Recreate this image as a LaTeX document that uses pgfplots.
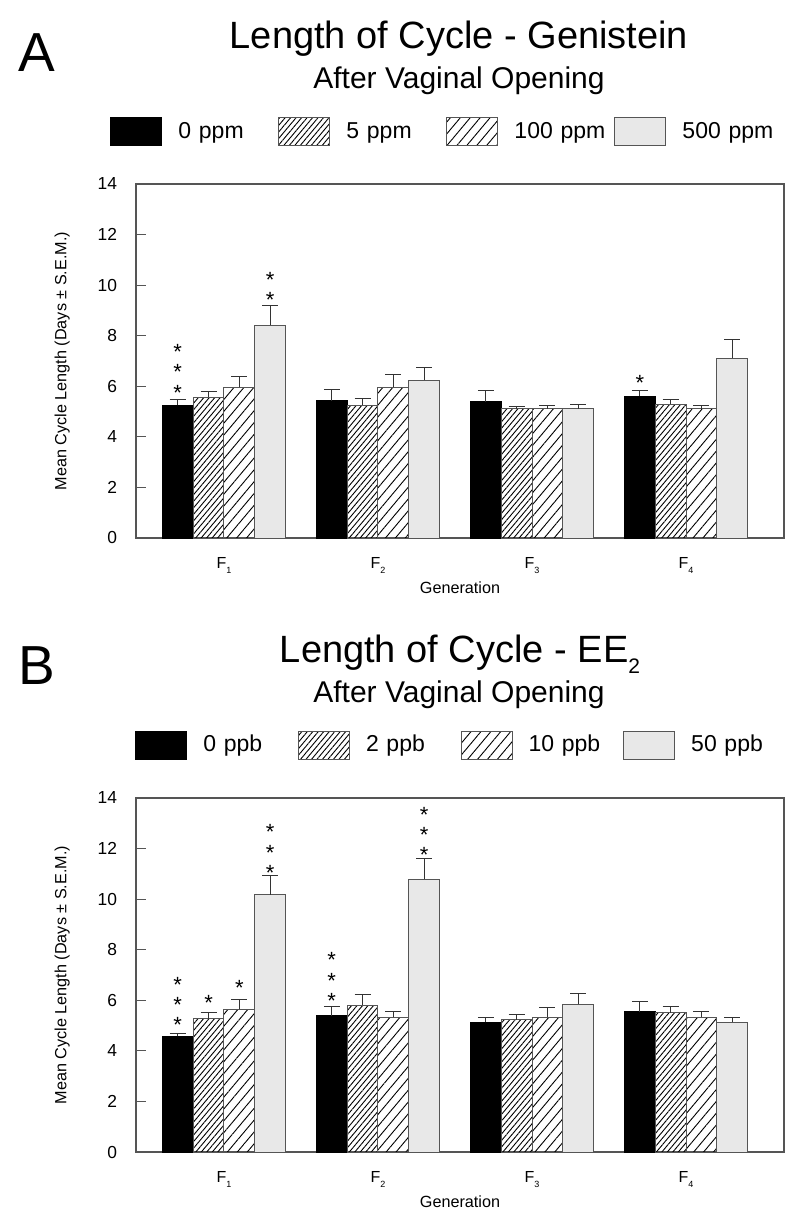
\documentclass[border=0pt]{standalone}
\usepackage{pgfplots}
\pgfplotsset{compat=1.18}
\usepackage{fontspec}
\setmainfont{Liberation Sans}
\usetikzlibrary{patterns.meta}

\definecolor{frame}{HTML}{555555}
\definecolor{lightbar}{HTML}{E8E8E8}
\definecolor{errcol}{HTML}{333333}

% F with a small lowered generation number
\newcommand{\Fg}[1]{F\raisebox{-2.5pt}{\fontsize{4.5}{5}\selectfont #1}}

\pgfplotsset{
  cyc/.style={
    anchor=north west, scale only axis, width=324pt, height=177pt,
    xmin=0.429, xmax=4.636, ymin=0, ymax=14,
    ytick={0,2,...,14}, ytick pos=left, tick align=inside,
    major tick length=5pt,
    xtick={1,2,3,4}, xticklabels={\Fg{1},\Fg{2},\Fg{3},\Fg{4}},
    xtick style={draw=none},
    axis line style={frame, line width=0.7pt},
    ytick style={frame, line width=0.6pt},
    tick label style={font=\fontsize{8.7}{10}\selectfont},
    /pgf/number format/assume math mode=true,
    yticklabel style={xshift=-6pt},
    xticklabel style={anchor=base, yshift=-15pt, font=\fontsize{8}{10}\selectfont},
    xlabel={Generation},
    ylabel={Mean Cycle Length  (Days ± S.E.M.)},
    label style={font=\fontsize{8.1}{10}\selectfont},
    xlabel style={at={(axis description cs:0.5,0)}, anchor=base, yshift=-27.5pt},
    ylabel style={at={(axis description cs:-0.114,0.5)}, anchor=center},
    legend columns=4,
  },
  % bars sit at their own x (group centre -0.3, -0.1, +0.1, +0.3)
  bars/.style={ybar, bar width=0.2, bar shift=0pt, line width=0.5pt,
    legend image code/.code={\draw[##1] (0pt,-7pt) rectangle (25.5pt,7pt);},
    error bars/y dir=plus, error bars/y explicit,
    error bars/error bar style={errcol, line width=0.5pt},
    error bars/error mark options={rotate=90, errcol, line width=0.5pt, mark size=4pt}},
  s0/.style={bars, fill=black, draw=black},
  s1/.style={bars, draw=frame,
    pattern={Lines[angle=50, distance=2.1pt, line width=0.45pt]}, pattern color=black},
  s2/.style={bars, draw=frame,
    pattern={Lines[angle=50, distance=3.8pt, line width=0.45pt]}, pattern color=black},
  s3/.style={bars, fill=lightbar, draw=frame},
  stars/.style={only marks, mark=none, forget plot, nodes near coords={*},
    every node near coord/.append style={anchor=center, inner sep=0pt,
      font=\fontsize{11}{11}\selectfont, black, yshift=-2.4pt}},
}

\begin{document}
\begin{tikzpicture}
\path[use as bounding box] (0,0) rectangle (400pt,-611pt);

% ---------- panel A ----------
\node[anchor=base west, inner sep=0pt, font=\fontsize{27.5}{30}\selectfont] at (9pt,-35.5pt) {A};
\node[anchor=base, font=\fontsize{19}{22}\selectfont] at (229.5pt,-24pt) {Length of Cycle - Genistein};
\node[anchor=base, font=\fontsize{15}{18}\selectfont] at (229.5pt,-44pt) {After Vaginal Opening};

\begin{axis}[cyc, at={(68pt,-92pt)},
  legend style={at={(axis description cs:-0.040,1.147)}, anchor=west, draw=none,
    inner sep=0pt, font=\fontsize{11.5}{13}\selectfont,
    /tikz/every odd column/.append style={column sep=8pt},
    nodes={inner sep=0pt, text width=50pt, align=left}}]
\addplot[s0] coordinates {(0.7,5.25) +- (0,0.22) (1.7,5.42) +- (0,0.44) (2.7,5.38) +- (0,0.46) (3.7,5.61) +- (0,0.21)};
\addplot[s1] coordinates {(0.9,5.57) +- (0,0.23) (1.9,5.26) +- (0,0.25) (2.9,5.11) +- (0,0.10) (3.9,5.29) +- (0,0.18)};
\addplot[s2] coordinates {(1.1,5.96) +- (0,0.42) (2.1,5.96) +- (0,0.49) (3.1,5.11) +- (0,0.13) (4.1,5.11) +- (0,0.14)};
\addplot[s3] coordinates {(1.3,8.42) +- (0,0.78) (2.3,6.24) +- (0,0.51) (3.3,5.11) +- (0,0.18) (4.3,7.11) +- (0,0.73)};
\addplot[stars] coordinates {(0.7,7.53) (0.7,6.74) (0.7,5.93) (1.3,10.41) (1.3,9.62) (3.7,6.32)};
\legend{0 ppm, 5 ppm, 100 ppm, 500 ppm}
\end{axis}

% ---------- panel B ----------
\node[anchor=base west, inner sep=0pt, font=\fontsize{27.5}{30}\selectfont] at (9pt,-342pt) {B};
\node[anchor=base, font=\fontsize{19}{22}\selectfont] at (230pt,-331pt)
  {Length of Cycle - EE\raisebox{-5.5pt}{\fontsize{10.5}{12}\selectfont 2}};
\node[anchor=base, font=\fontsize{15}{18}\selectfont] at (229.5pt,-351pt) {After Vaginal Opening};

\begin{axis}[cyc, at={(68pt,-399pt)},
  legend style={at={(axis description cs:-0.0015,1.1497)}, anchor=west, draw=none,
    inner sep=0pt, font=\fontsize{11.5}{13}\selectfont,
    /tikz/every odd column/.append style={column sep=8pt},
    nodes={inner sep=0pt, text width=47.3pt, align=left}}]
\addplot[s0] coordinates {(0.7,4.57) +- (0,0.13) (1.7,5.38) +- (0,0.39) (2.7,5.13) +- (0,0.19) (3.7,5.55) +- (0,0.42)};
\addplot[s1] coordinates {(0.9,5.28) +- (0,0.23) (1.9,5.80) +- (0,0.41) (2.9,5.23) +- (0,0.20) (3.9,5.51) +- (0,0.24)};
\addplot[s2] coordinates {(1.1,5.65) +- (0,0.40) (2.1,5.32) +- (0,0.23) (3.1,5.32) +- (0,0.40) (4.1,5.32) +- (0,0.23)};
\addplot[s3] coordinates {(1.3,10.17) +- (0,0.75) (2.3,10.78) +- (0,0.82) (3.3,5.84) +- (0,0.42) (4.3,5.14) +- (0,0.18)};
\addplot[stars] coordinates {(0.7,6.80) (0.7,6.01) (0.7,5.22) (0.9,6.09) (1.1,6.67)
  (1.3,12.83) (1.3,12.03) (1.3,11.24) (1.7,7.77) (1.7,6.97) (1.7,6.18)
  (2.3,13.51) (2.3,12.72) (2.3,11.93)};
\legend{0 ppb, 2 ppb, 10 ppb, 50 ppb}
\end{axis}
\end{tikzpicture}
\end{document}
